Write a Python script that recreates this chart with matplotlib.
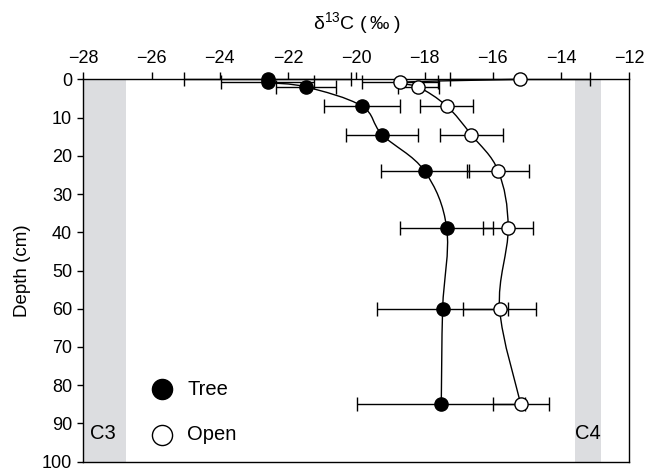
import matplotlib
matplotlib.use("Agg")
import matplotlib.pyplot as plt
from matplotlib.path import Path
from matplotlib.patches import PathPatch

plt.rcParams['font.family'] = ['Liberation Sans', 'DejaVu Sans']
plt.rcParams['mathtext.fontset'] = 'custom'
plt.rcParams['mathtext.rm'] = 'Liberation Sans'

# ---- data ----
depth = [0, 0.8, 2, 7, 14.5, 24, 39, 60, 85]
tree_d13c = [-22.6, -22.6, -21.47, -19.84, -19.24, -18.0, -17.35, -17.47, -17.51]
tree_err = [2.45, 1.37, 0.88, 1.12, 1.06, 1.29, 1.36, 1.92, 2.46]
open_d13c = [-15.2, -18.72, -18.18, -17.35, -16.63, -15.84, -15.55, -15.8, -15.18]
open_err = [2.05, 1.12, 0.61, 0.77, 0.92, 0.91, 0.74, 1.06, 0.82]
c3_band = [-28, -26.75]
c4_band = [-13.6, -12.82]
xticks = [-28, -26, -24, -22, -20, -18, -16, -14, -12]
yticks = [0, 10, 20, 30, 40, 50, 60, 70, 80, 90, 100]


def smooth_path(xs, ys, t=0.35):
    """Bezier path through the points (Catmull-Rom style tangents)."""
    n = len(xs)
    verts = [(xs[0], ys[0])]
    codes = [Path.MOVETO]
    for i in range(n - 1):
        x0, y0 = xs[max(i - 1, 0)], ys[max(i - 1, 0)]
        x1, y1 = xs[i], ys[i]
        x2, y2 = xs[i + 1], ys[i + 1]
        x3, y3 = xs[min(i + 2, n - 1)], ys[min(i + 2, n - 1)]
        c1 = (x1 + (x2 - x0) * t / 2, y1 + (y2 - y0) * t / 2)
        c2 = (x2 - (x3 - x1) * t / 2, y2 - (y3 - y1) * t / 2)
        verts += [c1, c2, (x2, y2)]
        codes += [Path.CURVE4] * 3
    return Path(verts, codes)


fig = plt.figure(figsize=(6.45, 4.71), dpi=100)
ax = fig.add_axes([83.3 / 645, 1 - 461.7 / 471, (629.3 - 83.3) / 645, (461.7 - 79.3) / 471])

band_color = '#dcdde0'
ax.axvspan(c3_band[0], c3_band[1], color=band_color, lw=0, zorder=0)
ax.axvspan(c4_band[0], c4_band[1], color=band_color, lw=0, zorder=0)

ax.errorbar(tree_d13c, depth, xerr=tree_err, fmt='none', ecolor='black',
            elinewidth=1.0, capsize=5, capthick=1.0, zorder=2, clip_on=False)
ax.errorbar(open_d13c, depth, xerr=open_err, fmt='none', ecolor='black',
            elinewidth=1.0, capsize=5, capthick=1.0, zorder=2, clip_on=False)

for xs in (tree_d13c, open_d13c):
    ax.add_patch(PathPatch(smooth_path(xs, depth), fill=False, edgecolor='black',
                           lw=1.0, zorder=3, clip_on=False))

ax.plot(tree_d13c, depth, 'o', ms=9.5, mfc='black', mec='black', mew=1.0,
        zorder=4, clip_on=False, lw=0)
ax.plot(open_d13c, depth, 'o', ms=9.5, mfc='white', mec='black', mew=1.0,
        zorder=4, clip_on=False, lw=0)

# legend drawn in data space
ax.plot([-25.7], [81.1], 'o', ms=14.5, mfc='black', mec='black', mew=1.0, zorder=4)
ax.plot([-25.7], [93.0], 'o', ms=14.5, mfc='white', mec='black', mew=1.0, zorder=4)
ax.text(-24.95, 81.1, 'Tree', fontsize=14.5, va='center', ha='left')
ax.text(-24.95, 93.0, 'Open', fontsize=14.5, va='center', ha='left')

ax.text(-27.43, 92.7, 'C3', fontsize=14.5, va='center', ha='center')
ax.text(-13.21, 92.7, 'C4', fontsize=14.5, va='center', ha='center')

ax.set_xlim(-28, -12)
ax.set_ylim(100, 0)
ax.set_xticks(xticks)
ax.set_yticks(yticks)
ax.xaxis.tick_top()
ax.xaxis.set_label_position('top')
ax.tick_params(axis='x', top=True, bottom=False, direction='out', length=5,
               width=1.0, pad=4, labelsize=13)
ax.tick_params(axis='y', left=True, right=False, direction='out', length=4,
               width=1.0, pad=4, labelsize=13)
ax.set_xlabel('δ$^{13}$C (\u2009‰\u2009)', fontsize=14, labelpad=14)
ax.set_ylabel('Depth (cm)', fontsize=13.5, labelpad=8)
for s in ax.spines.values():
    s.set_linewidth(1.0)

fig.savefig('out.png', dpi=100)
